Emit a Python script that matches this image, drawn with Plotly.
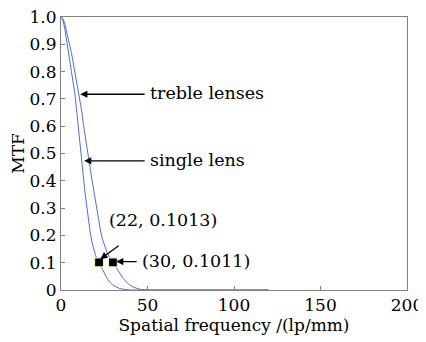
import plotly.graph_objects as go

# Spatial frequency (lp/mm) and MTF values
freq_single = [0, 1, 2, 3, 4, 5, 6, 7, 8, 9, 10, 11, 12, 13, 14, 15, 16, 17, 18, 19, 20,
               21, 22, 24, 26, 28, 30, 32, 34, 37, 40, 50, 60, 80, 100, 120]
mtf_single = [1.0, 0.99, 0.965, 0.925, 0.885, 0.845, 0.81, 0.77, 0.72, 0.66, 0.59, 0.53,
              0.47, 0.41, 0.35, 0.295, 0.245, 0.205, 0.172, 0.146, 0.126, 0.112, 0.1013,
              0.075, 0.05, 0.03, 0.018, 0.01, 0.005, 0.002, 0.0, 0.0, 0.0, 0.0, 0.0, 0.0]

freq_treble = [0, 1, 2, 3, 4, 5, 6, 7, 8, 9, 10, 11, 12, 13, 14, 15, 16, 17, 18, 19, 20,
               21, 22, 23, 24, 25, 26, 27, 28, 29, 30, 32, 34, 36, 38, 40, 42, 44, 46, 50,
               60, 80, 100, 120]
mtf_treble = [1.0, 0.995, 0.98, 0.955, 0.925, 0.9, 0.87, 0.835, 0.8, 0.77, 0.735, 0.7,
              0.655, 0.605, 0.56, 0.52, 0.485, 0.44, 0.4, 0.36, 0.32, 0.28, 0.245, 0.212,
              0.186, 0.165, 0.146, 0.131, 0.12, 0.11, 0.1011, 0.08, 0.06, 0.042, 0.028,
              0.017, 0.01, 0.005, 0.002, 0.0, 0.0, 0.0, 0.0, 0.0]

mark_x = [22, 30]
mark_y = [0.1013, 0.1011]
mark_labels = ["(22, 0.1013)", "(30, 0.1011)"]

x_ticks = [0, 50, 100, 150, 200]
y_ticks = [0, 0.1, 0.2, 0.3, 0.4, 0.5, 0.6, 0.7, 0.8, 0.9, 1.0]
y_ticktext = ["0", "0.1", "0.2", "0.3", "0.4", "0.5", "0.6", "0.7", "0.8", "0.9", "1.0"]

FONT = "DejaVu Serif"
LINE = "#4f6fd6"

fig = go.Figure()
fig.add_trace(go.Scatter(x=freq_single, y=mtf_single, mode="lines",
                         line=dict(color=LINE, width=1), name="single lens"))
fig.add_trace(go.Scatter(x=freq_treble, y=mtf_treble, mode="lines",
                         line=dict(color=LINE, width=1), name="treble lenses"))
fig.add_trace(go.Scatter(x=mark_x, y=mark_y, mode="markers",
                         marker=dict(symbol="square", size=9, color="black",
                                     line=dict(color="#f3f0b8", width=1.2)),
                         name="points"))

arrow = dict(showarrow=True, arrowhead=2, arrowsize=1.1, arrowwidth=1.3,
             arrowcolor="black", axref="x", ayref="y", text="")
fig.add_annotation(x=11.1, y=0.717, ax=49.2, ay=0.717, **arrow)
fig.add_annotation(x=13.4, y=0.473, ax=49.2, ay=0.473, **arrow)
fig.add_annotation(x=22.7, y=0.113, ax=34.2, ay=0.166, **arrow)
fig.add_annotation(x=31.9, y=0.104, ax=44.6, ay=0.104, **arrow)

txt = dict(showarrow=False, xanchor="left", yanchor="middle",
           font=dict(family=FONT, size=17.5, color="black"))
fig.add_annotation(x=50.2, y=0.722, text="treble lenses", **txt)
fig.add_annotation(x=50.2, y=0.478, text="single lens", **txt)
fig.add_annotation(x=26.3, y=0.257, text=mark_labels[0], **txt)
fig.add_annotation(x=45.6, y=0.108, text=mark_labels[1], **txt)

axis_common = dict(showgrid=False, zeroline=False, showline=True, mirror=True,
                   linecolor="#808080", linewidth=1, ticks="inside", ticklen=4,
                   tickcolor="#808080", automargin=False, ticklabeloverflow="allow",
                   tickfont=dict(family=FONT, size=17, color="black"))
fig.update_xaxes(range=[0, 200], tickvals=x_ticks,
                 title=dict(text="Spatial frequency /(lp/mm)", standoff=0,
                            font=dict(family=FONT, size=17, color="black")),
                 **axis_common)
fig.update_yaxes(range=[0, 1.0], tickvals=y_ticks, ticktext=y_ticktext,
                 title=dict(text="MTF", standoff=2,
                            font=dict(family=FONT, size=17, color="black")),
                 **axis_common)

# page body adds an 8px offset; sizes compensate so the plot lands where the reference has it
fig.update_layout(width=418, height=334, showlegend=False,
                  plot_bgcolor="white", paper_bgcolor="white",
                  margin=dict(l=53, r=19, t=9, b=52))

fig.write_html("out.html")
